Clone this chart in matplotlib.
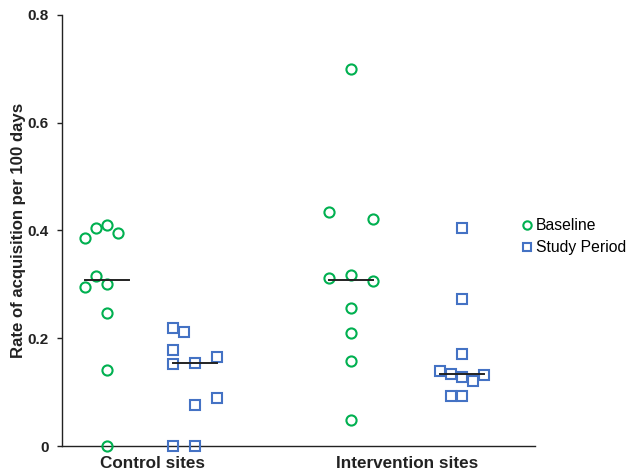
import matplotlib
matplotlib.use("Agg")
import matplotlib.pyplot as plt
from matplotlib.lines import Line2D

plt.rcParams['font.family'] = ['Liberation Sans', 'DejaVu Sans']

categories = ["Control sites", "Intervention sites"]

control_baseline = [0.386, 0.404, 0.410, 0.395, 0.315, 0.295, 0.300, 0.247, 0.141, 0.0]
control_baseline_col = [-2, -1, 0, 1, -1, -2, 0, 0, 0, 0]
control_baseline_median = 0.308

control_study = [0.219, 0.211, 0.178, 0.152, 0.154, 0.165, 0.076, 0.089, 0.0, 0.0]
control_study_col = [-2, -1, -2, -2, 0, 2, 0, 2, -2, 0]
control_study_median = 0.154

interv_baseline = [0.700, 0.434, 0.421, 0.312, 0.317, 0.306, 0.256, 0.210, 0.158, 0.048]
interv_baseline_col = [0, -2, 2, -2, 0, 2, 0, 0, 0, 0]
interv_baseline_median = 0.309

interv_study = [0.404, 0.273, 0.171, 0.139, 0.134, 0.128, 0.121, 0.132, 0.093, 0.093]
interv_study_col = [0, 0, 0, -2, -1, 0, 1, 2, -1, 0]
interv_study_median = 0.134

GREEN = "#00B050"
BLUE = "#4472C4"

fig = plt.figure(figsize=(6.36, 4.73), dpi=100)
ax = fig.add_axes([62/636, 1-446/473, (535-62)/636, (446-15)/473])
ax.set_xlim(62, 535)
ax.set_ylim(0, 0.8)

step = 11
groups = [
    (107, control_baseline, control_baseline_col, control_baseline_median, 'o', GREEN, (-2, 2)),
    (195, control_study, control_study_col, control_study_median, 's', BLUE, (-2, 2)),
    (351, interv_baseline, interv_baseline_col, interv_baseline_median, 'o', GREEN, (-2, 2)),
    (462, interv_study, interv_study_col, interv_study_median, 's', BLUE, (-2, 2)),
]
for cx, vals, cols, med, mk, col, span in groups:
    xs = [cx + c*step for c in cols]
    ax.plot(xs, vals, linestyle='none', marker=mk, markersize=7.3 if mk == 'o' else 7.0,
            markerfacecolor='none', markeredgecolor=col, markeredgewidth=1.5, clip_on=False, zorder=3)
    ax.plot([cx + span[0]*step, cx + span[1]*step], [med, med], color='#222222', lw=1.4, zorder=4)

for s in ['top', 'right']:
    ax.spines[s].set_visible(False)
for s in ['left', 'bottom']:
    ax.spines[s].set_color('#222222')
    ax.spines[s].set_linewidth(1.0)

ax.set_yticks([0, 0.2, 0.4, 0.6, 0.8])
ax.set_yticklabels(['0', '0.2', '0.4', '0.6', '0.8'], fontweight='bold', fontsize=11)
ax.tick_params(axis='y', direction='out', length=3.5, width=1, pad=6, colors='#222222')
ax.set_xticks([152, 407])
ax.set_xticklabels(categories, fontweight='bold', fontsize=12.3)
ax.tick_params(axis='x', length=0, pad=7, colors='#222222')
ax.set_ylabel('Rate of acquisition per 100 days', fontweight='bold', fontsize=12.1, color='#222222')
ax.yaxis.set_label_coords((26-62)/473, 0.5)

handles = [
    Line2D([], [], linestyle='none', marker='o', markersize=6, markerfacecolor='none',
           markeredgecolor=GREEN, markeredgewidth=1.5, label='Baseline'),
    Line2D([], [], linestyle='none', marker='s', markersize=6, markerfacecolor='none',
           markeredgecolor=BLUE, markeredgewidth=1.5, label='Study Period'),
]
fig.legend(handles=handles, loc='upper left', bbox_to_anchor=(514/636, 1-212/473),
           frameon=False, fontsize=11.3, handlelength=0.8, handletextpad=0.2,
           labelspacing=0.45, borderaxespad=0)

fig.savefig('out.png', dpi=100)
